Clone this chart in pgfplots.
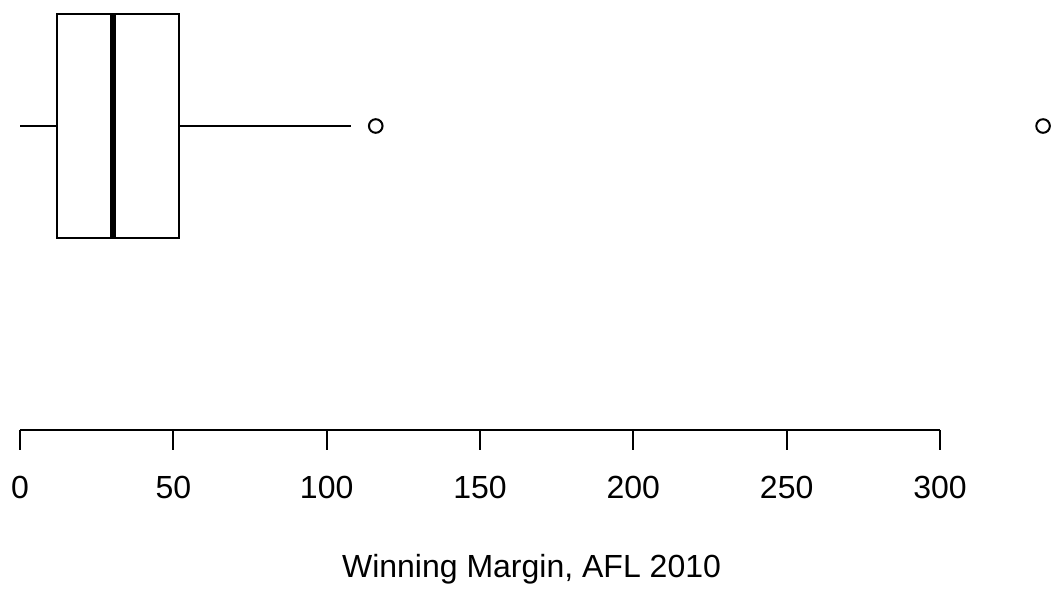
\documentclass[border=0pt]{standalone}
\usepackage{fontspec}
\setmainfont{Liberation Sans}
\usepackage{pgfplots}
\pgfplotsset{compat=1.18}
\usepgfplotslibrary{statistics}
\begin{document}
\begin{tikzpicture}
\begin{axis}[
  scale only axis,
  width=460pt, height=215pt,
  xmin=0, xmax=300, ymin=-0.0857, ymax=1.45,
  clip=false,
  axis x line=bottom,
  axis line style={-, line width=1pt, black},
  hide y axis,
  xtick={0,50,100,150,200,250,300},
  tick align=outside,
  major tick length=9.75pt,
  every tick/.style={black, line width=1pt},
  /pgf/number format/assume math mode=true,
  font=\fontsize{16}{19}\selectfont,
  xticklabel style={anchor=base, yshift=-24.5pt},
  xlabel={Winning Margin, AFL 2010},
  xlabel style={at={(axis description cs:0.556,-0.3419)}, anchor=base},
]
\addplot+[
  black, line width=1pt, solid, fill=none,
  mark=o, mark size=3.4pt, mark options={solid, line width=1pt, black},
  boxplot prepared={
    draw direction=x,
    draw position=1,
    box extend=0.8,
    whisker extend=0,
    lower whisker=0,
    lower quartile=12.07,
    median=30.2,
    upper quartile=51.8,
    upper whisker=108,
    every median/.style={line width=3pt},
  },
] coordinates {(0,116) (0,333.6)};
\path (axis cs:-6.52,-0.664) rectangle (axis cs:340.1,1.45);
\end{axis}
\end{tikzpicture}
\end{document}
